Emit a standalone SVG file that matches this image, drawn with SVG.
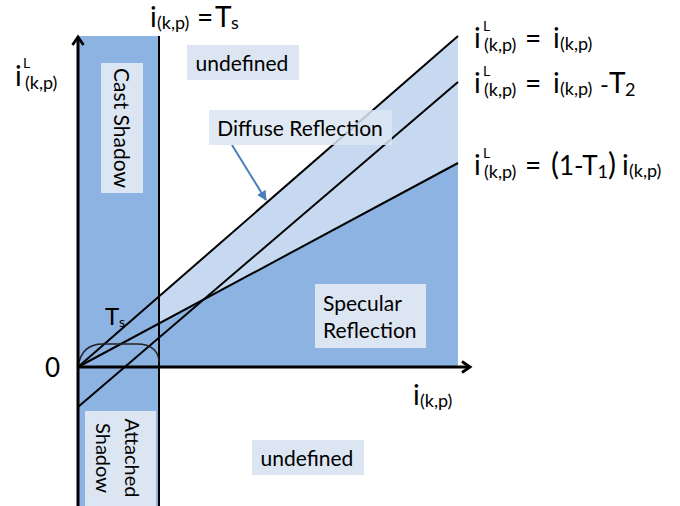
<svg xmlns="http://www.w3.org/2000/svg" width="680" height="506" viewBox="0 0 680 506">
<style>
text{font-family:Lato,"Open Sans","Liberation Sans",sans-serif;fill:#000}
.big{font-size:28px}
.sub{font-size:18px}
.sup{font-size:14px}
.lbl{font-size:21px}
.box{fill:#DCE6F2}
.ln{stroke:#000;stroke-width:2;fill:none}
.ax{stroke:#000;stroke-width:3;fill:none}
</style>
<defs>
<marker id="axHead" viewBox="0 0 14 14" refX="11" refY="7" markerWidth="14" markerHeight="14" orient="auto" markerUnits="userSpaceOnUse">
<path d="M3,1.5 L11,7 L3,12.5" fill="none" stroke="#000" stroke-width="2.8"/>
</marker>
<marker id="blueHead" viewBox="0 0 10 10" refX="9" refY="5" markerWidth="10" markerHeight="10" orient="auto" markerUnits="userSpaceOnUse">
<path d="M0,0 L10,5 L0,10 Z" fill="#4A7EBB"/>
</marker>
</defs>
<g id="regions">
<rect x="78" y="36" width="81" height="470" fill="#8DB3E2"/>
<polygon points="159,296.4 458,36 458,163 159,323.5" fill="#C6D9F1"/>
<polygon points="159,323.5 458,163 458,367 159,367" fill="#8DB3E2"/>
</g>
<g id="connectors">
<line class="ln" x1="78" y1="367" x2="458" y2="36"/>
<line class="ln" x1="78" y1="407" x2="458" y2="82"/>
<line class="ln" x1="78" y1="367" x2="458" y2="163"/>
<line class="ln" x1="159" y1="36" x2="159" y2="506"/>
<path d="M78,367 C80,352 88,344 103,344 L137,344 C152,344 159,352 159,362" fill="none" stroke="#222" stroke-width="1.5"/>
<line class="ax" x1="78" y1="367" x2="470" y2="367" marker-end="url(#axHead)"/>
<line class="ax" x1="78" y1="506" x2="78" y2="37" marker-end="url(#axHead)"/>
<line x1="232" y1="145" x2="266" y2="200" stroke="#4A7EBB" stroke-width="2" marker-end="url(#blueHead)"/>
</g>
<g id="cast-shadow">
<rect class="box" x="101" y="63" width="42" height="130"/>
<text class="lbl" transform="translate(114,128) rotate(90)" text-anchor="middle">Cast Shadow</text>
</g>
<g id="attached-shadow">
<rect class="box" x="85" y="411" width="71" height="95"/>
<text class="lbl" transform="translate(125,458) rotate(90)" text-anchor="middle" style="font-size:20px">Attached</text>
<text class="lbl" transform="translate(96,458) rotate(90)" text-anchor="middle" style="font-size:20px">Shadow</text>
</g>
<g id="undefined-top">
<rect class="box" x="187" y="45" width="112" height="35"/>
<text class="lbl" x="242" y="71" text-anchor="middle">undefined</text>
</g>
<g id="undefined-bottom">
<rect class="box" x="252" y="440" width="112" height="35"/>
<text class="lbl" x="307" y="466" text-anchor="middle">undefined</text>
</g>
<g id="diffuse-reflection">
<rect class="box" x="209" y="110" width="183" height="35" opacity="0.85"/>
<text class="lbl" x="300" y="136" text-anchor="middle">Diffuse Reflection</text>
</g>
<g id="specular-reflection">
<rect class="box" x="315" y="284" width="111" height="64"/>
<text class="lbl" x="323" y="311">Specular</text>
<text class="lbl" x="323" y="338">Reflection</text>
</g>
<g id="label-ts-top">
<text class="big" x="150" y="27">i</text>
<text class="sub" x="157" y="29">(k,p)</text>
<text class="big" x="197" y="27">=</text>
<text class="big" x="215" y="27">T</text>
<text class="sub" x="231" y="29">s</text>
</g>
<g id="label-y-axis">
<text class="big" x="15" y="86">i</text>
<text class="sup" x="23" y="68">L</text>
<text class="sub" x="25" y="89">(k,p)</text>
</g>
<g id="label-x-axis">
<text class="big" x="413" y="405">i</text>
<text class="sub" x="420" y="407">(k,p)</text>
</g>
<g id="label-zero">
<text x="45" y="377" style="font-size:26px">0</text>
</g>
<g id="label-ts">
<text x="105" y="325" style="font-size:24px">T</text>
<text x="119" y="327" style="font-size:14px">s</text>
</g>
<g id="eq1">
<text class="big" x="474" y="48">i</text>
<text class="sup" x="483" y="31">L</text>
<text class="sub" x="484" y="51">(k,p)</text>
<text class="big" x="525" y="48">=</text>
<text class="big" x="553" y="48">i</text>
<text class="sub" x="560" y="50">(k,p)</text>
</g>
<g id="eq2">
<text class="big" x="474" y="93">i</text>
<text class="sup" x="483" y="76">L</text>
<text class="sub" x="484" y="96">(k,p)</text>
<text class="big" x="525" y="93">=</text>
<text class="big" x="553" y="93">i</text>
<text class="sub" x="560" y="95">(k,p)</text>
<text x="600" y="93" style="font-size:24px">-</text>
<text x="609" y="93" style="font-size:28px">T</text>
<text class="sub" x="625" y="96">2</text>
</g>
<g id="eq3">
<text class="big" x="474" y="175">i</text>
<text class="sup" x="483" y="158">L</text>
<text class="sub" x="484" y="178">(k,p)</text>
<text class="big" x="525" y="175">=</text>
<text x="551" y="175" style="font-size:26px"><tspan style="font-size:30px">(</tspan>1-T<tspan dy="3" style="font-size:18px">1</tspan><tspan dy="-3" style="font-size:30px">)</tspan></text>
<text class="big" x="622" y="175">i</text>
<text class="sub" x="629" y="177">(k,p)</text>
</g>
</svg>
